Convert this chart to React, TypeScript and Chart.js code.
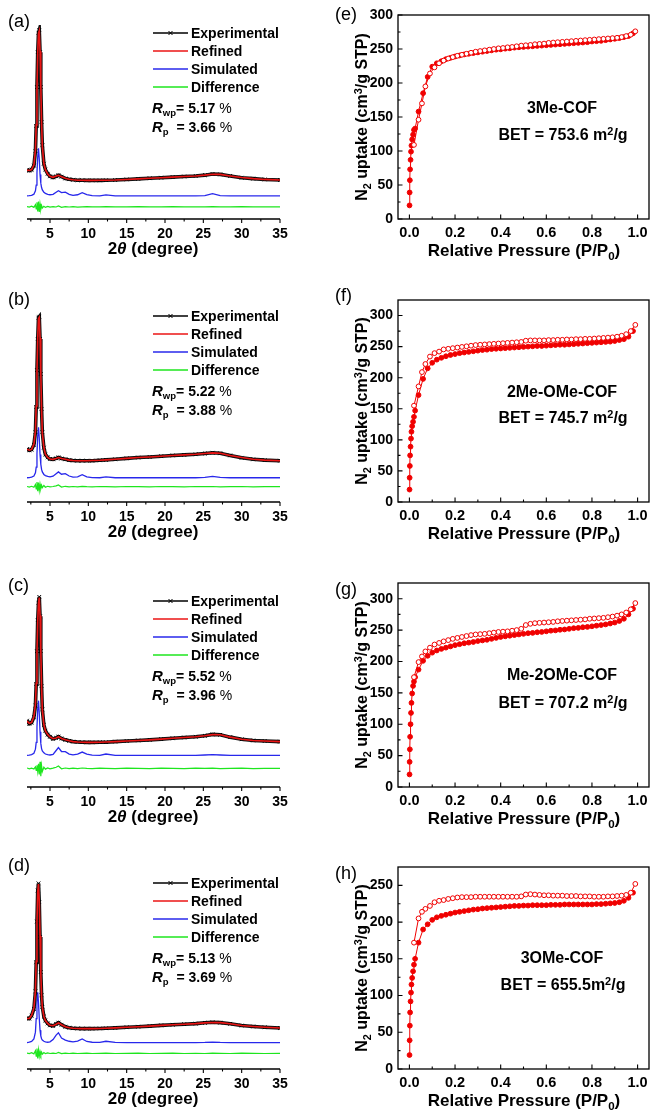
import React, { useEffect, useRef } from "react";
import { Chart, registerables } from "chart.js";

Chart.register(...registerables);

const FONT = "'Liberation Sans', Arial, Helvetica, sans-serif";

// ---------------- XRD data (2θ grid shared by panels a–d) ----------------
const twoTheta = [
  2.0, 2.3, 2.6, 2.9, 3.1, 3.2, 3.3, 3.4, 3.5, 3.6,
  3.7, 3.8, 3.9, 4.0, 4.2, 4.4, 4.7, 5.0, 5.4, 5.8,
  6.1, 6.5, 7.0, 7.5, 8.0, 8.6, 9.2, 9.8, 10.5, 11.5,
  12.3, 13.5, 15, 16.5, 18, 19.5, 21, 22.5, 24, 25.2,
  26.2, 27.2, 28.5, 30, 31.5, 33, 35,
];
const xrdTicks = [5, 10, 15, 20, 25, 30, 35];
const xrdMinorTicks = [2.5, 7.5, 12.5, 17.5, 22.5, 27.5, 32.5];

const expA = [
  25.3, 24.9, 25.4, 27.5, 35, 48, 68, 86, 96, 97.4,
  86, 68, 50, 38, 28.5, 25.5, 23.3, 22.0, 21.4, 22.0,
  22.6, 21.8, 20.9, 20.5, 20.2, 20.0, 20.0, 19.9, 19.9, 19.9,
  20.0, 20.1, 20.4, 20.7, 21.0, 21.3, 21.6, 21.9, 22.2, 22.6,
  23.2, 23.0, 22.2, 21.3, 20.8, 20.4, 20.1,
];
const refA = [
  25.2, 25.0, 25.5, 27.8, 35.5, 48.5, 67.5, 85.5, 95.8, 97.0,
  86.5, 68.5, 49.5, 37.5, 28.6, 25.4, 23.2, 22.0, 21.5, 22.1,
  22.5, 21.8, 21.0, 20.5, 20.2, 20.0, 20.0, 19.9, 19.9, 20.0,
  20.0, 20.1, 20.4, 20.7, 21.0, 21.3, 21.6, 21.9, 22.2, 22.6,
  23.1, 23.0, 22.2, 21.4, 20.8, 20.4, 20.1,
];
const simA = [
  11.9, 12.0, 12.2, 12.8, 14.5, 17.5, 24, 32, 36.4, 31,
  23, 18.5, 16.2, 15.0, 13.8, 13.2, 12.7, 12.5, 12.7, 13.8,
  14.6, 13.6, 13.8, 12.7, 12.2, 12.5, 13.6, 12.6, 12.0, 11.9,
  12.4, 11.9, 11.9, 11.9, 11.9, 11.9, 11.9, 11.9, 11.9, 12.1,
  13.1, 12.1, 11.9, 11.9, 11.9, 11.9, 11.9,
];
const difA = [
  6.4, 6.1, 6.6, 6.0, 7.4, 5.2, 8.6, 3.9, 9.0, 3.6,
  7.8, 5.0, 6.9, 5.7, 6.6, 6.0, 6.5, 6.1, 6.4, 6.2,
  6.7, 6.0, 6.4, 6.2, 6.4, 6.1, 6.3, 6.4, 6.2, 6.3,
  6.4, 6.2, 6.3, 6.4, 6.2, 6.3, 6.4, 6.2, 6.3, 6.2,
  6.4, 6.3, 6.2, 6.4, 6.3, 6.2, 6.3,
];

const expB = [
  27.3, 26.6, 27.0, 29.5, 36, 49, 68, 84, 95, 95.5,
  84, 66, 48, 36, 28, 24.5, 23.0, 22.2, 22.0, 22.5,
  23.0, 22.4, 22.0, 21.6, 21.4, 21.3, 21.3, 21.3, 21.3, 21.5,
  21.7, 22.0, 22.5, 22.9, 23.2, 23.6, 24.0, 24.3, 24.6, 25.0,
  25.4, 25.1, 24.0, 22.8, 22.0, 21.6, 21.3,
];
const refB = [
  27.2, 26.7, 27.1, 29.8, 36.5, 49.5, 67.5, 84.5, 94.6, 95.2,
  84.5, 66.5, 47.5, 35.5, 28.1, 24.6, 23.0, 22.2, 22.0, 22.4,
  22.9, 22.4, 22.0, 21.6, 21.4, 21.3, 21.3, 21.3, 21.4, 21.5,
  21.7, 22.0, 22.5, 22.9, 23.2, 23.6, 24.0, 24.3, 24.6, 25.0,
  25.3, 25.1, 24.0, 22.9, 22.0, 21.6, 21.3,
];
const simB = [
  12.5, 12.6, 12.8, 13.4, 15.0, 18.0, 25.0, 34.0, 38.5, 33.0,
  24.5, 19.5, 16.8, 15.5, 14.2, 13.6, 13.2, 13.0, 13.3, 14.6,
  15.5, 14.3, 14.6, 13.4, 12.8, 13.0, 14.1, 13.0, 12.6, 12.5,
  12.9, 12.5, 12.5, 12.5, 12.5, 12.5, 12.5, 12.5, 12.5, 12.7,
  13.2, 12.7, 12.5, 12.5, 12.5, 12.5, 12.5,
];
const difB = [
  8.0, 7.7, 8.1, 7.6, 9.0, 6.8, 10.3, 5.6, 10.0, 6.0,
  9.2, 6.9, 8.6, 7.4, 8.5, 7.6, 8.1, 7.8, 8.0, 8.3,
  8.8, 7.7, 8.1, 7.8, 8.0, 7.8, 8.1, 7.9, 7.8, 8.0,
  7.9, 7.8, 8.0, 7.9, 7.8, 8.0, 7.9, 7.8, 8.0, 7.9,
  8.0, 7.8, 7.9, 8.0, 7.8, 7.9, 7.9,
];

const expC = [
  34.2, 32.6, 33.2, 36, 42, 53, 70, 86, 95, 98,
  88, 70, 52, 40, 32, 29, 27, 25.9, 24.8, 25.3,
  26.0, 25.0, 24.3, 23.8, 23.4, 23.2, 23.1, 23.0, 23.0, 23.1,
  23.1, 23.4, 23.7, 24.0, 24.3, 24.7, 25.1, 25.5, 25.9, 26.4,
  27.1, 26.9, 25.7, 24.6, 24.0, 23.7, 23.4,
];
const refC = [
  34.0, 32.8, 33.3, 36.3, 42.5, 53.5, 69.5, 85.5, 94.8, 97.6,
  88.4, 70.5, 51.5, 39.6, 32.2, 28.9, 27.0, 25.8, 24.9, 25.3,
  25.9, 25.0, 24.3, 23.8, 23.4, 23.2, 23.1, 23.0, 23.0, 23.1,
  23.2, 23.4, 23.7, 24.0, 24.3, 24.7, 25.1, 25.5, 25.9, 26.4,
  27.0, 26.9, 25.7, 24.6, 24.0, 23.7, 23.4,
];
const simC = [
  16.3, 16.4, 16.7, 17.4, 19.5, 23.0, 31.0, 40.0, 44.5, 38.0,
  28.5, 22.5, 19.8, 18.6, 17.6, 17.0, 16.7, 16.5, 16.8, 18.8,
  20.3, 18.3, 18.2, 17.0, 16.6, 16.9, 18.0, 16.9, 16.4, 16.3,
  17.0, 16.3, 16.3, 16.3, 16.3, 16.3, 16.3, 16.3, 16.3, 16.5,
  16.7, 16.5, 16.3, 16.3, 16.3, 16.3, 16.3,
];
const difC = [
  9.8, 9.4, 9.7, 9.3, 10.4, 8.6, 11.2, 8.0, 12.0, 6.5,
  13.0, 5.5, 11.0, 8.0, 10.2, 9.2, 9.8, 9.4, 9.7, 10.2,
  10.8, 9.4, 9.8, 9.5, 9.7, 9.5, 9.8, 9.6, 9.5, 9.7,
  9.6, 9.5, 9.7, 9.6, 9.5, 9.7, 9.6, 9.5, 9.7, 9.6,
  9.7, 9.5, 9.6, 9.7, 9.5, 9.6, 9.6,
];

const expD = [
  26.1, 26.0, 27.5, 31, 40, 55, 76, 92, 95.7, 86,
  68, 50, 38, 32, 27, 25, 23.5, 22.5, 22.2, 23.2,
  23.9, 22.8, 21.8, 21.3, 21.0, 20.9, 20.8, 20.8, 20.8, 20.9,
  21.0, 21.2, 21.5, 21.8, 22.1, 22.5, 22.8, 23.1, 23.4, 23.8,
  24.1, 23.9, 23.3, 22.4, 21.9, 21.5, 21.1,
];
const refD = [
  26.0, 26.1, 27.7, 31.5, 40.5, 55.5, 75.5, 91.5, 95.3, 86.5,
  68.5, 49.5, 37.6, 31.8, 27.1, 25.0, 23.5, 22.5, 22.3, 23.1,
  23.8, 22.8, 21.8, 21.3, 21.0, 20.9, 20.8, 20.8, 20.8, 20.9,
  21.0, 21.2, 21.5, 21.8, 22.1, 22.5, 22.8, 23.1, 23.4, 23.8,
  24.0, 23.9, 23.3, 22.4, 21.9, 21.5, 21.1,
];
const simD = [
  13.6, 13.8, 14.2, 15.5, 19.0, 26.0, 35.0, 39.5, 34.0, 26.0,
  20.0, 17.0, 15.6, 14.9, 14.3, 14.0, 13.8, 14.0, 15.2, 17.5,
  18.7, 16.0, 14.9, 14.3, 14.0, 14.4, 15.5, 14.2, 13.8, 13.7,
  14.3, 13.7, 13.6, 13.6, 13.6, 13.6, 13.6, 13.6, 13.6, 13.7,
  13.9, 13.7, 13.6, 13.6, 13.6, 13.6, 13.6,
];
const difD = [
  8.2, 7.9, 8.4, 7.8, 9.4, 6.6, 10.6, 5.4, 9.8, 6.6,
  9.0, 7.2, 8.7, 7.7, 8.5, 7.9, 8.3, 8.0, 8.2, 8.0,
  8.5, 7.9, 8.2, 8.0, 8.2, 8.0, 8.1, 8.2, 8.0, 8.1,
  8.2, 8.0, 8.1, 8.2, 8.0, 8.1, 8.2, 8.0, 8.1, 8.0,
  8.2, 8.1, 8.0, 8.2, 8.1, 8.0, 8.1,
];

// ---------------- N2 isotherm data ----------------
const adsP = [
  0.0005, 0.001, 0.002, 0.003, 0.005, 0.007, 0.009, 0.012, 0.016, 0.02,
  0.025, 0.04, 0.06, 0.08,
  0.10, 0.12, 0.14, 0.16, 0.18, 0.20, 0.22, 0.24, 0.26, 0.28,
  0.30, 0.32, 0.34, 0.36, 0.38, 0.40, 0.42, 0.44, 0.46, 0.48,
  0.50, 0.52, 0.54, 0.56, 0.58, 0.60, 0.62, 0.64, 0.66, 0.68,
  0.70, 0.72, 0.74, 0.76, 0.78, 0.80, 0.82, 0.84, 0.86, 0.88,
  0.90, 0.92, 0.94, 0.96, 0.98,
];
const desP = [
  0.99, 0.97, 0.95, 0.93, 0.91, 0.89, 0.87, 0.85, 0.83, 0.81,
  0.79, 0.77, 0.75, 0.73, 0.71, 0.69, 0.67, 0.65, 0.63, 0.61,
  0.59, 0.57, 0.55, 0.53, 0.51, 0.49, 0.47, 0.45, 0.43, 0.41,
  0.39, 0.37, 0.35, 0.33, 0.31, 0.29, 0.27, 0.25, 0.23, 0.21,
  0.19, 0.17, 0.15, 0.13, 0.11, 0.09, 0.07, 0.055, 0.04, 0.02,
];
const betXTicks = [0, 0.2, 0.4, 0.6, 0.8, 1.0];
const betXMinorTicks = [0.1, 0.3, 0.5, 0.7, 0.9];

const adsE = [
  20, 39, 57, 73, 87, 99, 108, 117, 124, 131, 133, 158, 185, 209,
  224, 229, 232, 235, 237, 239, 240.5, 242, 243, 244,
  245, 246, 247, 248, 249, 249.5, 250.5, 251, 252, 252.5,
  253, 253.5, 254, 254.5, 255, 255.5, 256, 256.5, 257, 257.5,
  258, 258.5, 259, 259.5, 260, 261, 261.5, 262, 263, 264,
  265, 266, 267.5, 269, 273,
];
const desE = [
  276, 271, 269, 267.5, 266.5, 266, 265.5, 265, 264.5, 264,
  263.5, 263, 262.5, 262, 261.5, 261, 260.5, 260, 259.5, 259,
  258, 257.5, 257, 256, 255.5, 255, 254, 253, 252.5, 251.5,
  251, 250, 249, 248, 247, 246, 244.5, 243, 241.5, 240,
  238, 236, 233, 229, 223, 214, 195, 170, 146, 109,
];
const adsF = [
  20, 39, 58, 75, 89, 102, 113, 122, 129, 137, 147, 172, 198, 215,
  224, 229, 232, 234.5, 236.5, 238, 239.5, 240.5, 241.5, 242.5,
  243.5, 244.5, 245, 246, 246.5, 247, 247.5, 248, 248.5, 249,
  249.5, 250, 250.5, 251, 251, 251.5, 252, 252.5, 253, 253,
  253.5, 254, 254.5, 255, 255.5, 256, 256.5, 257, 257.5, 258,
  259, 260.5, 262, 266, 275,
];
const desF = [
  285, 275, 270, 267.5, 266, 265, 264.5, 264, 263.5, 263,
  262.5, 262.5, 262, 262, 261.5, 261.5, 261, 261, 260.5, 260.5,
  260, 260, 260, 260, 259.5, 257.5, 257, 256.5, 256, 255.5,
  255, 254.5, 254, 253.5, 253, 252.5, 251.5, 250.5, 249.5, 248.5,
  247.5, 246.5, 245.5, 242, 239.5, 234, 222, 209, 186, 155,
];
const adsG = [
  20, 40, 60, 80, 100, 118, 134, 149, 161, 168, 175, 187, 201, 209,
  214, 217.5, 220, 222, 224, 226, 227.5, 229, 230, 231,
  232.5, 233.5, 234.5, 236, 237.5, 239, 240, 241, 242, 243,
  244, 245, 245.5, 246.5, 247, 248, 249, 249.5, 250.5, 251,
  252, 253, 253.5, 254.5, 255, 256, 257, 258, 259, 260.5,
  262, 264.5, 268, 275, 284,
];
const desG = [
  293, 283, 278, 275, 273, 271.5, 270.5, 269.5, 269, 268.5,
  268, 267, 266.5, 266, 265.5, 265, 264.5, 264, 263, 262.5,
  262, 261.5, 261, 260, 258, 252, 250, 249, 248, 247.5,
  247, 246, 245, 244, 243.5, 243, 242, 240.5, 239, 237.5,
  236, 234, 232, 229.5, 227, 222, 216, 208, 199, 175,
];
const adsH = [
  19, 39, 59, 77, 92, 104, 115, 124, 133, 142, 150, 172, 190, 197,
  203, 206.5, 208.5, 210, 211.5, 213, 214, 215, 216, 217,
  217.5, 218.5, 219, 219.5, 220, 220.5, 221, 221.5, 222, 222,
  222.5, 222.5, 223, 223, 223, 223, 223.5, 223.5, 223.5, 224,
  224, 224, 224, 224, 224, 224, 224.5, 224.5, 225, 225.5,
  226, 227, 229, 233, 240,
];
const desH = [
  252, 240, 237, 236, 235.5, 235, 235, 234.5, 234.5, 234.5,
  235, 235, 235, 235.5, 235.5, 235.5, 236, 236, 236, 236.5,
  236.5, 237, 237.5, 238, 237.5, 235, 234.5, 234.5, 234.5, 234.5,
  234.5, 234.5, 234.5, 234.5, 234.5, 234.5, 234, 234, 234, 233.5,
  232.5, 231.5, 230, 229, 227, 222, 218, 214, 205, 172,
];

// ---------------- helpers ----------------
const pts = (xs: number[], ys: number[]) => xs.map((x, i) => ({ x, y: ys[i] }));

type FrameCfg = {
  box: boolean;
  inward: boolean;
  xMajor: number[];
  xMinor: number[];
  yMajor?: number[];
  yMinor?: number[];
  major: number;
  minor: number;
};

function makeFrame(cfg: FrameCfg) {
  return {
    id: "frame",
    afterDatasetsDraw(chart: any) {
      const { ctx, chartArea: a } = chart;
      const xs = chart.scales.x;
      const ys = chart.scales.y;
      ctx.save();
      ctx.strokeStyle = "#000";
      ctx.lineWidth = 1.3;
      if (cfg.box) {
        ctx.strokeRect(a.left, a.top, a.right - a.left, a.bottom - a.top);
      } else {
        ctx.beginPath();
        ctx.moveTo(a.left, a.bottom);
        ctx.lineTo(a.right, a.bottom);
        ctx.stroke();
      }
      const d = cfg.inward ? -1 : 1;
      ctx.lineWidth = 1.1;
      ctx.beginPath();
      const tx = (v: number, len: number) => {
        const p = xs.getPixelForValue(v);
        ctx.moveTo(p, a.bottom);
        ctx.lineTo(p, a.bottom + d * len);
      };
      const ty = (v: number, len: number) => {
        const p = ys.getPixelForValue(v);
        ctx.moveTo(a.left, p);
        ctx.lineTo(a.left - d * len, p);
      };
      cfg.xMajor.forEach((v) => tx(v, cfg.major));
      cfg.xMinor.forEach((v) => tx(v, cfg.minor));
      (cfg.yMajor || []).forEach((v) => ty(v, cfg.major));
      (cfg.yMinor || []).forEach((v) => ty(v, cfg.minor));
      ctx.stroke();
      ctx.restore();
    },
  };
}

const Txt = ({
  x, y, size, weight = "bold", align = "left", style, children,
}: any) => (
  <div
    style={{
      position: "absolute",
      left: x,
      top: y,
      transform: `translate(${align === "center" ? "-50%" : align === "right" ? "-100%" : "0"}, -50%)`,
      fontSize: size,
      fontWeight: weight,
      lineHeight: 1,
      whiteSpace: "nowrap",
      ...style,
    }}
  >
    {children}
  </div>
);

const Sub = ({ children }: any) => (
  <span style={{ fontSize: "0.68em", position: "relative", top: "0.35em" }}>{children}</span>
);
const Sup = ({ children }: any) => (
  <span style={{ fontSize: "0.68em", position: "relative", top: "-0.45em" }}>{children}</span>
);

// ---------------- XRD panel ----------------
const XRD_W = 330;
const XRD_H = 260;

function XrdChart({ top, exp, ref, sim, dif }: any) {
  const cv = useRef<HTMLCanvasElement>(null);
  useEffect(() => {
    const chart = new Chart(cv.current!, {
      type: "scatter",
      data: {
        datasets: [
          { label: "Refined", data: pts(twoTheta, ref), showLine: true, borderColor: "rgb(235,20,20)", borderWidth: 1.6, pointRadius: 0, order: 0 },
          { label: "Experimental", data: pts(twoTheta, exp), showLine: true, borderColor: "#111", borderWidth: 3.6, pointStyle: "crossRot", pointRadius: 2.6, pointBorderWidth: 1, pointBorderColor: "#000", pointBackgroundColor: "#000", order: 1 },
          { label: "Simulated", data: pts(twoTheta, sim), showLine: true, borderColor: "rgb(40,40,235)", borderWidth: 1.3, pointRadius: 0, order: 2 },
          { label: "Difference", data: pts(twoTheta, dif), showLine: true, borderColor: "rgb(30,230,30)", borderWidth: 1.2, pointRadius: 0, order: 3 },
        ],
      },
      options: {
        responsive: false,
        animation: false,
        events: [],
        layout: { padding: { left: 27, right: 50, top: 25, bottom: 0 } },
        plugins: { legend: { display: false }, tooltip: { enabled: false } },
        scales: {
          x: {
            type: "linear",
            min: 2,
            max: 35,
            grid: { display: false, drawTicks: false },
            border: { display: false },
            afterBuildTicks: (s: any) => { s.ticks = xrdTicks.map((v) => ({ value: v })); },
            afterFit: (s: any) => { s.height = 41; },
            ticks: { color: "#000", padding: 7, autoSkip: false, maxRotation: 0, font: { family: FONT, size: 14, weight: "bold" } },
          },
          y: { display: false, min: 0, max: 100 },
        },
      } as any,
      plugins: [makeFrame({ box: false, inward: false, xMajor: xrdTicks, xMinor: xrdMinorTicks, major: 4, minor: 2.5 })],
    });
    return () => chart.destroy();
  }, []);
  return (
    <canvas ref={cv} width={XRD_W} height={XRD_H} style={{ position: "absolute", left: 0, top, width: XRD_W, height: XRD_H }} />
  );
}

function LegendLine({ x, y, color, marker }: any) {
  return (
    <svg width={35} height={8} style={{ position: "absolute", left: x, top: y - 4 }}>
      <line x1={0} y1={4} x2={35} y2={4} stroke={color} strokeWidth={1.6} />
      {marker && <path d="M15.5 2 L19.5 6 M19.5 2 L15.5 6" stroke={color} strokeWidth={1} />}
    </svg>
  );
}

function XrdOverlay({ top, label, labelY, rwp, rp }: any) {
  const rows = [
    { name: "Experimental", color: "#000", marker: true },
    { name: "Refined", color: "rgb(235,20,20)" },
    { name: "Simulated", color: "rgb(40,40,235)" },
    { name: "Difference", color: "rgb(30,230,30)" },
  ];
  return (
    <>
      <Txt x={8} y={labelY} size={18} weight="normal">{label}</Txt>
      {rows.map((r, i) => (
        <React.Fragment key={r.name}>
          <LegendLine x={153} y={top + 33 + i * 18} color={r.color} marker={r.marker} />
          <Txt x={191} y={top + 33 + i * 18} size={14}>{r.name}</Txt>
        </React.Fragment>
      ))}
      <Txt x={152} y={top + 107} size={14}>
        <i style={{ fontSize: 15 }}>R</i><Sub>wp</Sub>= {rwp} <span style={{ fontWeight: "normal" }}>%</span>
      </Txt>
      <Txt x={152} y={top + 126} size={14}>
        <i style={{ fontSize: 15 }}>R</i><Sub>p</Sub>&nbsp;&nbsp;= {rp} <span style={{ fontWeight: "normal" }}>%</span>
      </Txt>
      <Txt x={153} y={top + 219 + 29} size={17} align="center">
        2<i>θ</i> (degree)
      </Txt>
    </>
  );
}

// ---------------- BET panel ----------------
const BET_W = 324;
const BET_H = 270;

function BetChart({ top, padTop, plotH, yMax, yMajor, yMinor, ads, des }: any) {
  const cv = useRef<HTMLCanvasElement>(null);
  useEffect(() => {
    const red = "rgb(240,0,0)";
    const chart = new Chart(cv.current!, {
      type: "scatter",
      data: {
        datasets: [
          { label: "Desorption", data: pts(desP, des), showLine: true, borderColor: red, borderWidth: 1, pointStyle: "circle", pointRadius: 2.4, pointBorderWidth: 1, pointBorderColor: red, pointBackgroundColor: "#fff", order: 0 },
          { label: "Adsorption", data: pts(adsP, ads), showLine: true, borderColor: red, borderWidth: 1, pointStyle: "circle", pointRadius: 2.4, pointBorderWidth: 1, pointBorderColor: red, pointBackgroundColor: red, order: 1 },
        ],
      },
      options: {
        responsive: false,
        animation: false,
        events: [],
        layout: { padding: { left: 0, right: 2.5, top: padTop, bottom: 0 } },
        plugins: { legend: { display: false }, tooltip: { enabled: false } },
        scales: {
          x: {
            type: "linear",
            min: -0.05,
            max: 1.05,
            grid: { display: false, drawTicks: false },
            border: { display: false },
            afterBuildTicks: (s: any) => { s.ticks = betXTicks.map((v) => ({ value: v })); },
            afterFit: (s: any) => { s.height = BET_H - padTop - plotH; },
            ticks: { color: "#000", padding: 5, autoSkip: false, maxRotation: 0, callback: (v: any) => Number(v).toFixed(1), font: { family: FONT, size: 14.5, weight: "bold" } },
          },
          y: {
            type: "linear",
            min: 0,
            max: yMax,
            grid: { display: false, drawTicks: false },
            border: { display: false },
            afterBuildTicks: (s: any) => { s.ticks = yMajor.map((v: number) => ({ value: v })); },
            afterFit: (s: any) => { s.width = 68; },
            ticks: { color: "#000", padding: 5, autoSkip: false, font: { family: FONT, size: 14, weight: "bold" } },
          },
        },
      } as any,
      plugins: [makeFrame({ box: true, inward: true, xMajor: betXTicks, xMinor: betXMinorTicks, yMajor, yMinor, major: 4.5, minor: 2.5 })],
    });
    return () => chart.destroy();
  }, []);
  return (
    <canvas ref={cv} width={BET_W} height={BET_H} style={{ position: "absolute", left: 330, top, width: BET_W, height: BET_H }} />
  );
}

function BetOverlay({ top, padTop, plotH, label, labelY, name, bet, nameY, betY, noSpace }: any) {
  const bottom = top + padTop + plotH;
  return (
    <>
      <Txt x={335} y={labelY} size={18} weight="normal">{label}</Txt>
      <Txt x={562} y={nameY} size={16} align="center">{name}</Txt>
      <Txt x={563} y={betY} size={16} align="center">
        BET = {bet}{noSpace ? "" : " "}m<Sup>2</Sup>/g
      </Txt>
      <Txt x={524} y={bottom + 31} size={17} align="center">
        Relative Pressure (P/P<Sub>0</Sub>)
      </Txt>
      <div
        style={{
          position: "absolute",
          left: 362,
          top: top + padTop + plotH / 2,
          transform: "translate(-50%, -50%) rotate(-90deg)",
          fontSize: 16,
          fontWeight: "bold",
          lineHeight: 1,
          whiteSpace: "nowrap",
        }}
      >
        N<Sub>2</Sub> uptake (cm<Sup>3</Sup>/g STP)
      </div>
    </>
  );
}

const xrdPanels = [
  { top: 0, label: "(a)", labelY: 21, exp: expA, ref: refA, sim: simA, dif: difA, rwp: "5.17", rp: "3.66" },
  { top: 283, label: "(b)", labelY: 299, exp: expB, ref: refB, sim: simB, dif: difB, rwp: "5.22", rp: "3.88" },
  { top: 568, label: "(c)", labelY: 585, exp: expC, ref: refC, sim: simC, dif: difC, rwp: "5.52", rp: "3.96" },
  { top: 850, label: "(d)", labelY: 865, exp: expD, ref: refD, sim: simD, dif: difD, rwp: "5.13", rp: "3.69" },
];

const y300 = [0, 50, 100, 150, 200, 250, 300];
const y300m = [25, 75, 125, 175, 225, 275];
const y250 = [0, 50, 100, 150, 200, 250];
const y250m = [25, 75, 125, 175, 225];

const betPanels = [
  { top: 0, padTop: 15, plotH: 204, yMax: 300, yMajor: y300, yMinor: y300m, label: "(e)", labelY: 14, name: "3Me-COF", bet: "753.6", nameY: 108, betY: 135, ads: adsE, des: desE },
  { top: 270, padTop: 30, plotH: 202, yMax: 325, yMajor: y300, yMinor: y300m, label: "(f)", labelY: 295, name: "2Me-OMe-COF", bet: "745.7", nameY: 392, betY: 418, ads: adsF, des: desF },
  { top: 550, padTop: 33, plotH: 204, yMax: 325, yMajor: y300, yMinor: y300m, label: "(g)", labelY: 589, name: "Me-2OMe-COF", bet: "707.2", nameY: 675, betY: 703, ads: adsG, des: desG },
  { top: 830, padTop: 37, plotH: 202, yMax: 275, yMajor: y250, yMinor: y250m, label: "(h)", labelY: 873, name: "3OMe-COF", bet: "655.5", nameY: 958, betY: 985, ads: adsH, des: desH, noSpace: true },
];

export default function App() {
  return (
    <div
      style={{
        position: "absolute",
        left: 0,
        top: 0,
        width: 654,
        height: 1112,
        background: "#fff",
        fontFamily: FONT,
        color: "#000",
        overflow: "hidden",
      }}
    >
      {xrdPanels.map((p) => (
        <XrdChart key={p.label} {...p} />
      ))}
      {betPanels.map((p) => (
        <BetChart key={p.label} {...p} />
      ))}
      {xrdPanels.map((p) => (
        <XrdOverlay key={"o" + p.label} {...p} />
      ))}
      {betPanels.map((p) => (
        <BetOverlay key={"o" + p.label} {...p} />
      ))}
    </div>
  );
}
